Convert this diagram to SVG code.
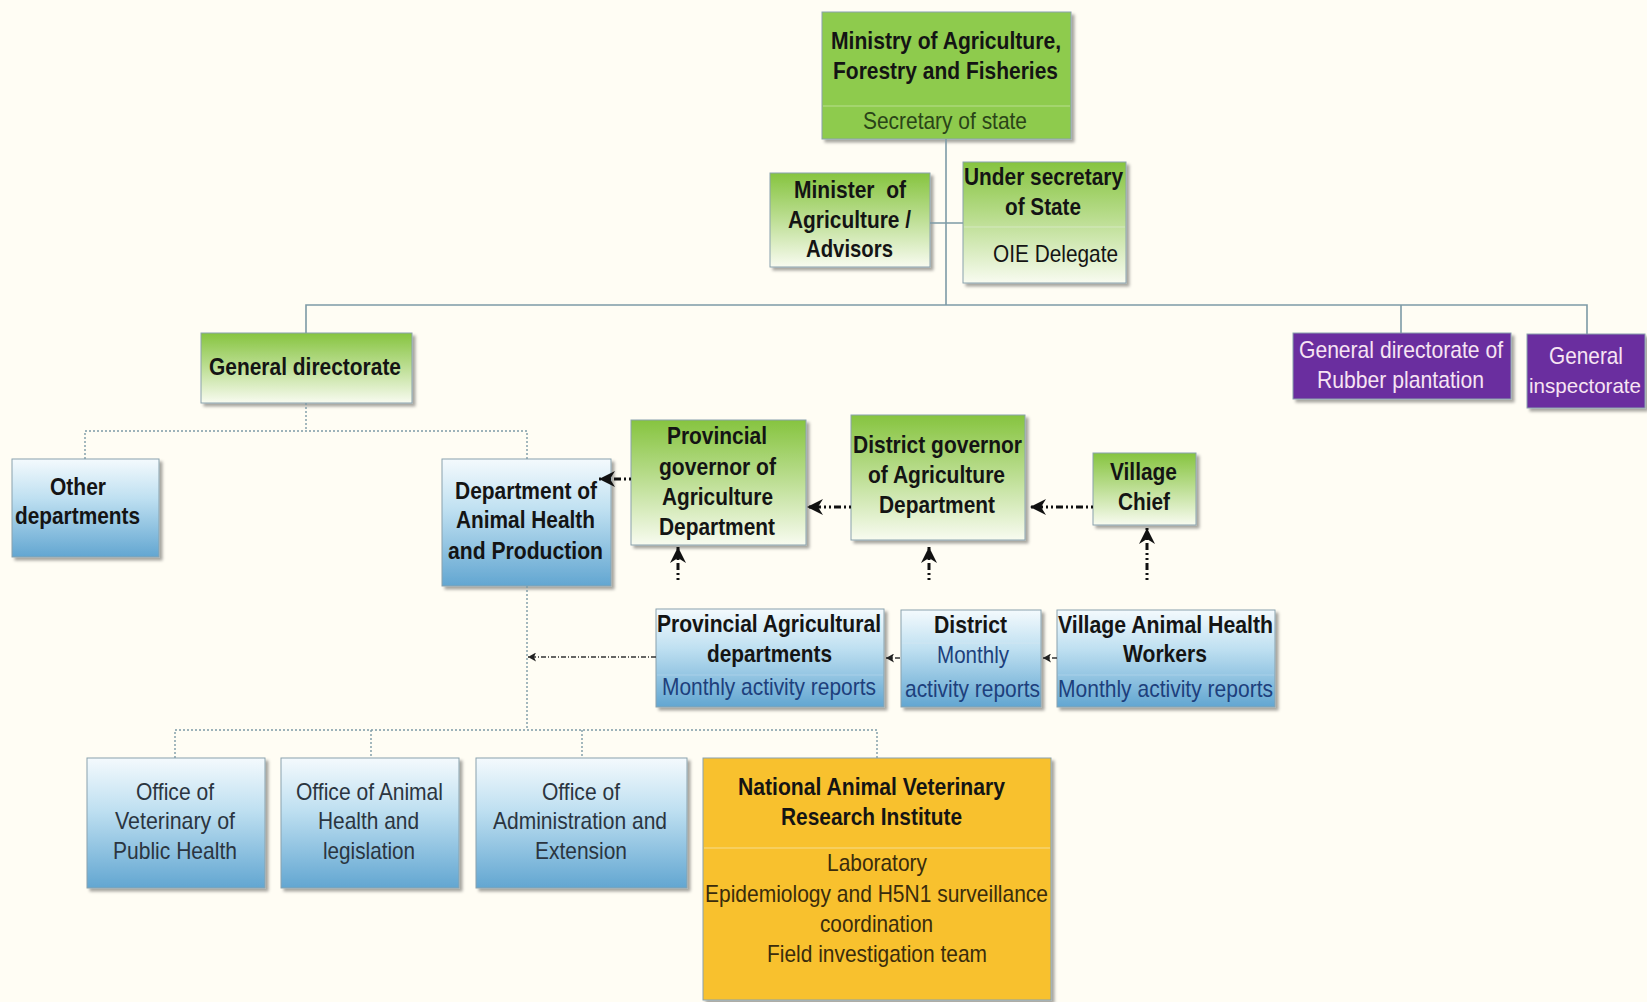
<svg xmlns="http://www.w3.org/2000/svg" width="1647" height="1002" viewBox="0 0 1647 1002">
<style>
text{font-family:"Liberation Sans",Arial,sans-serif;font-size:24px;font-weight:bold;fill:#141414}
.n{font-weight:normal}
.dg{fill:#2a4418}
.db{fill:#1d3f7c}
.of{fill:#2b3540}
.pu{font-weight:normal;fill:#f7e4f3}
.sm{font-size:21px}
.or{fill:#3a2c0c}
.box{stroke:#8aa2ad;stroke-width:1;filter:url(#sh)}
.sol{stroke:#7d9aa6;stroke-width:1.6;fill:none}
.dot{stroke:#7d9aa6;stroke-width:1.4;fill:none;stroke-dasharray:2 2}
.blk{stroke:#111;stroke-width:3;fill:none;stroke-dasharray:2 3 2 3 7 3}
.thn{stroke:#333;stroke-width:1.3;fill:none;stroke-dasharray:5 2 1 2}
.div{stroke-width:1;fill:none}
</style>
<defs>
<linearGradient id="gG" x1="0" y1="0" x2="0" y2="1">
<stop offset="0" stop-color="#86c43f"/>
<stop offset="0.45" stop-color="#b8dc8c"/>
<stop offset="1" stop-color="#f8fbf0"/>
</linearGradient>
<linearGradient id="gB" x1="0" y1="0" x2="0" y2="1">
<stop offset="0" stop-color="#f4fafd"/>
<stop offset="0.4" stop-color="#bfe0f1"/>
<stop offset="1" stop-color="#62a6d1"/>
</linearGradient>
<filter id="sh" x="-10%" y="-10%" width="130%" height="130%">
<feDropShadow dx="3" dy="3" stdDeviation="1.6" flood-color="#000" flood-opacity="0.35"/>
</filter>
<marker id="ah" markerUnits="userSpaceOnUse" markerWidth="18" markerHeight="18" refX="16" refY="8" orient="auto">
<path d="M0,0 L16,8 L0,16 L5,8 z" fill="#111"/>
</marker>
<marker id="as" markerUnits="userSpaceOnUse" markerWidth="9" markerHeight="9" refX="8" refY="4.5" orient="auto">
<path d="M0,0 L8,4.5 L0,9 L2,4.5 z" fill="#222"/>
</marker>
</defs>
<rect x="0" y="0" width="1647" height="1002" fill="#fffdf4"/>

<g id="ministry">
<rect class="box" x="822" y="12" width="249" height="127" fill="#8ecb4e"/>
<line class="div" x1="823" y1="106" x2="1070" y2="106" stroke="#b9de90"/>
<text x="831" y="49" textLength="230" lengthAdjust="spacingAndGlyphs">Ministry of Agriculture,</text>
<text x="833" y="79" textLength="225" lengthAdjust="spacingAndGlyphs">Forestry and Fisheries</text>
<text class="n dg" x="863" y="129" textLength="164" lengthAdjust="spacingAndGlyphs">Secretary of state</text>
</g>

<g id="minister">
<rect class="box" x="770" y="173" width="160" height="94" fill="url(#gG)"/>
<text x="794" y="198" textLength="112" lengthAdjust="spacingAndGlyphs" xml:space="preserve">Minister  of</text>
<text x="788" y="228" textLength="123" lengthAdjust="spacingAndGlyphs">Agriculture /</text>
<text x="806" y="257" textLength="87" lengthAdjust="spacingAndGlyphs">Advisors</text>
</g>

<g id="under-secretary">
<rect class="box" x="963" y="162" width="163" height="121" fill="url(#gG)"/>
<line class="div" x1="964" y1="227" x2="1125" y2="227" stroke="#d4e8c0"/>
<text x="964" y="185" textLength="159" lengthAdjust="spacingAndGlyphs">Under secretary</text>
<text x="1005" y="215" textLength="76" lengthAdjust="spacingAndGlyphs">of State</text>
<text class="n" x="993" y="262" textLength="125" lengthAdjust="spacingAndGlyphs" fill="#222">OIE Delegate</text>
</g>

<g id="general-directorate">
<rect class="box" x="201" y="333" width="211" height="70" fill="url(#gG)"/>
<text x="209" y="375" textLength="192" lengthAdjust="spacingAndGlyphs">General directorate</text>
</g>

<g id="rubber">
<rect class="box" x="1293" y="333" width="218" height="66" fill="#6b2d9f" stroke="#4f1f7a"/>
<text class="pu" x="1299" y="358" textLength="204" lengthAdjust="spacingAndGlyphs">General directorate of</text>
<text class="pu" x="1317" y="388" textLength="167" lengthAdjust="spacingAndGlyphs">Rubber plantation</text>
</g>

<g id="inspectorate">
<rect class="box" x="1527" y="334" width="118" height="74" fill="#6b2d9f" stroke="#4f1f7a"/>
<text class="pu" x="1549" y="364" textLength="74" lengthAdjust="spacingAndGlyphs">General</text>
<text class="pu sm" x="1529" y="393" textLength="112" lengthAdjust="spacingAndGlyphs">inspectorate</text>
</g>

<g id="other-departments">
<rect class="box" x="12" y="459" width="147" height="98" fill="url(#gB)"/>
<text x="50" y="495" textLength="56" lengthAdjust="spacingAndGlyphs">Other</text>
<text x="15" y="524" textLength="125" lengthAdjust="spacingAndGlyphs">departments</text>
</g>

<g id="dept-animal-health">
<rect class="box" x="442" y="459" width="169" height="127" fill="url(#gB)"/>
<text x="455" y="499" textLength="142" lengthAdjust="spacingAndGlyphs">Department of</text>
<text x="456" y="528" textLength="139" lengthAdjust="spacingAndGlyphs">Animal Health</text>
<text x="448" y="559" textLength="155" lengthAdjust="spacingAndGlyphs">and Production</text>
</g>

<g id="provincial-governor">
<rect class="box" x="631" y="420" width="175" height="125" fill="url(#gG)"/>
<text x="667" y="444" textLength="100" lengthAdjust="spacingAndGlyphs">Provincial</text>
<text x="659" y="475" textLength="117" lengthAdjust="spacingAndGlyphs">governor of</text>
<text x="662" y="505" textLength="111" lengthAdjust="spacingAndGlyphs">Agriculture</text>
<text x="659" y="535" textLength="116" lengthAdjust="spacingAndGlyphs">Department</text>
</g>

<g id="district-governor">
<rect class="box" x="851" y="415" width="174" height="125" fill="url(#gG)"/>
<text x="853" y="453" textLength="169" lengthAdjust="spacingAndGlyphs">District governor</text>
<text x="868" y="483" textLength="137" lengthAdjust="spacingAndGlyphs">of Agriculture</text>
<text x="879" y="513" textLength="116" lengthAdjust="spacingAndGlyphs">Department</text>
</g>

<g id="village-chief">
<rect class="box" x="1093" y="453" width="103" height="72" fill="url(#gG)"/>
<text x="1110" y="480" textLength="67" lengthAdjust="spacingAndGlyphs">Village</text>
<text x="1118" y="510" textLength="52" lengthAdjust="spacingAndGlyphs">Chief</text>
</g>

<g id="provincial-agri-departments">
<rect class="box" x="656" y="609" width="228" height="98" fill="url(#gB)"/>
<line class="div" x1="657" y1="675" x2="883" y2="675" stroke="#a9d0e8"/>
<text x="657" y="632" textLength="224" lengthAdjust="spacingAndGlyphs">Provincial Agricultural</text>
<text x="707" y="662" textLength="125" lengthAdjust="spacingAndGlyphs">departments</text>
<text class="n db" x="662" y="695" textLength="214" lengthAdjust="spacingAndGlyphs">Monthly activity reports</text>
</g>

<g id="district">
<rect class="box" x="901" y="610" width="140" height="97" fill="url(#gB)"/>
<line class="div" x1="902" y1="643" x2="1040" y2="643" stroke="#cfe5f2"/>
<text x="934" y="633" textLength="73" lengthAdjust="spacingAndGlyphs">District</text>
<text class="n db" x="937" y="663" textLength="72" lengthAdjust="spacingAndGlyphs">Monthly</text>
<text class="n db" x="905" y="697" textLength="135" lengthAdjust="spacingAndGlyphs">activity reports</text>
</g>

<g id="village-animal-health-workers">
<rect class="box" x="1057" y="610" width="218" height="97" fill="url(#gB)"/>
<line class="div" x1="1058" y1="675" x2="1274" y2="675" stroke="#a9d0e8"/>
<text x="1058" y="633" textLength="215" lengthAdjust="spacingAndGlyphs">Village Animal Health</text>
<text x="1123" y="662" textLength="84" lengthAdjust="spacingAndGlyphs">Workers</text>
<text class="n db" x="1058" y="697" textLength="215" lengthAdjust="spacingAndGlyphs">Monthly activity reports</text>
</g>

<g id="office-veterinary">
<rect class="box" x="87" y="758" width="178" height="130" fill="url(#gB)"/>
<text class="n of" x="136" y="800" textLength="78" lengthAdjust="spacingAndGlyphs">Office of</text>
<text class="n of" x="115" y="829" textLength="120" lengthAdjust="spacingAndGlyphs">Veterinary of</text>
<text class="n of" x="113" y="859" textLength="124" lengthAdjust="spacingAndGlyphs">Public Health</text>
</g>

<g id="office-animal-health">
<rect class="box" x="281" y="758" width="178" height="130" fill="url(#gB)"/>
<text class="n of" x="296" y="800" textLength="147" lengthAdjust="spacingAndGlyphs">Office of Animal</text>
<text class="n of" x="318" y="829" textLength="101" lengthAdjust="spacingAndGlyphs">Health and</text>
<text class="n of" x="323" y="859" textLength="92" lengthAdjust="spacingAndGlyphs">legislation</text>
</g>

<g id="office-administration">
<rect class="box" x="476" y="758" width="211" height="130" fill="url(#gB)"/>
<text class="n of" x="542" y="800" textLength="78" lengthAdjust="spacingAndGlyphs">Office of</text>
<text class="n of" x="493" y="829" textLength="174" lengthAdjust="spacingAndGlyphs">Administration and</text>
<text class="n of" x="535" y="859" textLength="92" lengthAdjust="spacingAndGlyphs">Extension</text>
</g>

<g id="national-institute">
<rect class="box" x="703" y="758" width="348" height="242" fill="#f8c12f" stroke="#b39a5a"/>
<line class="div" x1="704" y1="848" x2="1050" y2="848" stroke="#f6dc8e"/>
<text x="738" y="795" textLength="267" lengthAdjust="spacingAndGlyphs">National Animal Veterinary</text>
<text x="781" y="825" textLength="181" lengthAdjust="spacingAndGlyphs">Research Institute</text>
<text class="n or" x="827" y="871" textLength="100" lengthAdjust="spacingAndGlyphs">Laboratory</text>
<text class="n or" x="705" y="902" textLength="343" lengthAdjust="spacingAndGlyphs">Epidemiology and H5N1 surveillance</text>
<text class="n or" x="820" y="932" textLength="113" lengthAdjust="spacingAndGlyphs">coordination</text>
<text class="n or" x="767" y="962" textLength="220" lengthAdjust="spacingAndGlyphs">Field investigation team</text>
</g>

<g id="connectors">
<line class="sol" x1="946" y1="139" x2="946" y2="305"/>
<line class="sol" x1="930" y1="223" x2="963" y2="223"/>
<polyline class="sol" points="306,333 306,305 1587,305 1587,334"/>
<line class="sol" x1="1401" y1="305" x2="1401" y2="333"/>
<line class="dot" x1="306" y1="403" x2="306" y2="431"/>
<polyline class="dot" points="85,459 85,431 527,431 527,459"/>
<line class="dot" x1="527" y1="586" x2="527" y2="730"/>
<polyline class="dot" points="175,758 175,730 877,730 877,758"/>
<line class="dot" x1="371" y1="730" x2="371" y2="758"/>
<line class="dot" x1="582" y1="730" x2="582" y2="758"/>
<line class="thn" x1="656" y1="657" x2="528" y2="657" marker-end="url(#as)"/>
<line class="thn" x1="900" y1="658" x2="886" y2="658" marker-end="url(#as)"/>
<line class="thn" x1="1057" y1="658" x2="1043" y2="658" marker-end="url(#as)"/>
<line class="blk" x1="631" y1="479" x2="599" y2="479" marker-end="url(#ah)"/>
<line class="blk" x1="851" y1="507" x2="807" y2="507" marker-end="url(#ah)"/>
<line class="blk" x1="1093" y1="507" x2="1030" y2="507" marker-end="url(#ah)"/>
<line class="blk" x1="678" y1="580" x2="678" y2="547" marker-end="url(#ah)"/>
<line class="blk" x1="929" y1="580" x2="929" y2="547" marker-end="url(#ah)"/>
<line class="blk" x1="1147" y1="580" x2="1147" y2="528" marker-end="url(#ah)"/>
</g>
</svg>
